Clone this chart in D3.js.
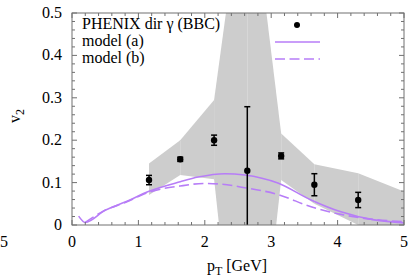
<!DOCTYPE html>
<html>
<head>
<meta charset="utf-8">
<script src="https://cdn.jsdelivr.net/npm/d3@7"></script>
<style>
  body { margin: 0; background: #fff; }
  svg { display: block; }
  text { font-family: "Liberation Serif", "DejaVu Serif", serif; fill: #000; }
</style>
</head>
<body>
<script>
// PHENIX direct photon v2 data (points + systematic band)
var ptData   = [1.16, 1.63, 2.14, 2.64, 3.15, 3.65, 4.31];
var v2Data   = [0.106, 0.155, 0.200, 0.128, 0.163, 0.095, 0.059];
var v2Err    = [0.011, 0.005, 0.012, 0.151, 0.007, 0.026, 0.018];

// gray band edges
var bandPt = [1.16, 1.63, 2.14, 2.64, 3.15, 3.65, 4.31, 5.0];
var bandHi = [0.145, 0.200, 0.295, 0.870, 0.216, 0.143, 0.122, 0.079];
var bandLo = [0.071, 0.118, 0.108, -0.614, 0.106, 0.050, 0.000, -0.030];

// model curves
var ptA = [0.1, 0.2, 0.5, 0.8, 1.15, 1.63, 1.9, 2.3, 2.6, 3.1, 3.6, 4.05, 4.55, 5.0];
var v2A = [0.021, 0.006, 0.035, 0.054, 0.079, 0.102, 0.113, 0.121, 0.118, 0.099, 0.059, 0.031, 0.012, 0.005];
var ptB = [0.2, 0.5, 0.8, 1.15, 1.63, 2.0, 2.2, 2.6, 3.1, 3.6, 4.05, 4.55, 5.0];
var v2B = [0.006, 0.035, 0.053, 0.077, 0.092, 0.098, 0.097, 0.088, 0.072, 0.043, 0.025, 0.013, 0.008];

var xTicks = [0, 1, 2, 3, 4, 5];
var yTicks = [0, 0.1, 0.2, 0.3, 0.4, 0.5];
var legendLabels = ["PHENIX dir \u03b3 (BBC)", "model (a)", "model (b)"];

var W = 410, H = 277;
var margin = {top: 13, right: 6, bottom: 52, left: 72};
var pw = W - margin.left - margin.right,
    ph = H - margin.top - margin.bottom;

var purple = "#b77df7", gray = "#707070";

var svg = d3.select("body").append("svg")
    .attr("width", W).attr("height", H);

var x = d3.scaleLinear().domain([0, 5]).range([margin.left, margin.left + pw]);
var y = d3.scaleLinear().domain([0, 0.5]).range([margin.top + ph, margin.top]);

svg.append("defs").append("clipPath").attr("id", "plotclip")
  .append("rect")
    .attr("x", margin.left).attr("y", margin.top)
    .attr("width", pw).attr("height", ph);

var plot = svg.append("g").attr("clip-path", "url(#plotclip)");

// band drawn segment by segment
var band = d3.range(bandPt.length - 1).map(function(i) {
  return [[bandPt[i], bandHi[i]], [bandPt[i+1], bandHi[i+1]],
          [bandPt[i+1], bandLo[i+1]], [bandPt[i], bandLo[i]]];
});
plot.selectAll("path.band").data(band).enter().append("path")
    .attr("class", "band")
    .attr("d", function(d) {
      return "M" + d.map(function(p) { return x(p[0]) + "," + y(p[1]); }).join("L") + "Z";
    })
    .attr("fill", "#cdcdcd");

// model curves
var line = d3.line().curve(d3.curveMonotoneX)
    .x(function(d) { return x(d[0]); })
    .y(function(d) { return y(d[1]); });

plot.append("path")
    .datum(d3.zip(ptB, v2B))
    .attr("d", line)
    .attr("fill", "none").attr("stroke", purple).attr("stroke-width", 1.6)
    .attr("stroke-dasharray", "10,4.5");

plot.append("path")
    .datum(d3.zip(ptA, v2A))
    .attr("d", line)
    .attr("fill", "none").attr("stroke", purple).attr("stroke-width", 1.6);

// data points with error bars
var pts = d3.zip(ptData, v2Data, v2Err);
var eb = plot.selectAll("g.pt").data(pts).enter().append("g").attr("class", "pt");
eb.append("line")
    .attr("x1", function(d) { return x(d[0]); }).attr("x2", function(d) { return x(d[0]); })
    .attr("y1", function(d) { return y(d[1] + d[2]); }).attr("y2", function(d) { return y(d[1] - d[2]); })
    .attr("stroke", "#000").attr("stroke-width", 1.5);
[1, -1].forEach(function(s) {
  eb.append("line")
      .attr("x1", function(d) { return x(d[0]) - 3; }).attr("x2", function(d) { return x(d[0]) + 3; })
      .attr("y1", function(d) { return y(d[1] + s * d[2]); }).attr("y2", function(d) { return y(d[1] + s * d[2]); })
      .attr("stroke", "#000").attr("stroke-width", 1.5);
});
eb.append("circle")
    .attr("cx", function(d) { return x(d[0]); }).attr("cy", function(d) { return y(d[1]); })
    .attr("r", 3.2).attr("fill", "#000");

// frame and ticks (gnuplot style, inward on all sides)
var frame = svg.append("g").attr("stroke", gray).attr("stroke-width", 1);
var x0 = margin.left, x1 = margin.left + pw, y0 = margin.top + ph, y1 = margin.top;

d3.range(0, 5.0001, 0.2).forEach(function(v) {
  var major = Math.abs(v - Math.round(v)) < 1e-6, len = major ? 5 : 3;
  frame.append("line").attr("x1", x(v)).attr("x2", x(v)).attr("y1", y0).attr("y2", y0 - len);
  frame.append("line").attr("x1", x(v)).attr("x2", x(v)).attr("y1", y1).attr("y2", y1 + len);
});
d3.range(0, 0.50001, 0.02).forEach(function(v) {
  var major = Math.abs(v * 10 - Math.round(v * 10)) < 1e-6, len = major ? 5 : 3;
  frame.append("line").attr("x1", x0).attr("x2", x0 + len).attr("y1", y(v)).attr("y2", y(v));
  frame.append("line").attr("x1", x1).attr("x2", x1 - len).attr("y1", y(v)).attr("y2", y(v));
});
frame.append("rect")
    .attr("x", x0).attr("y", y1).attr("width", pw).attr("height", ph)
    .attr("fill", "none");

// tick labels
svg.selectAll("text.xt").data(xTicks).enter().append("text")
    .attr("x", function(d) { return x(d); }).attr("y", 247)
    .attr("text-anchor", "middle").attr("font-size", 16)
    .text(function(d) { return d; });
svg.selectAll("text.yt").data(yTicks).enter().append("text")
    .attr("x", 62).attr("y", function(d) { return y(d) + 5; })
    .attr("text-anchor", "end").attr("font-size", 16)
    .text(function(d) { return d; });

// leftover label from neighbouring panel, kept inside the page
svg.append("text").attr("x", 0).attr("y", 247)
    .attr("text-anchor", "start").attr("font-size", 16).text("5");

// axis titles
var xl = svg.append("text").attr("x", 237).attr("y", 271)
    .attr("text-anchor", "middle").attr("font-size", 16);
xl.append("tspan").text("p");
xl.append("tspan").attr("dy", 4).attr("font-size", 12).text("T");
xl.append("tspan").attr("dy", -4).text(" [GeV]");

var yl = svg.append("text").attr("transform", "translate(20,116) rotate(-90)")
    .attr("text-anchor", "middle").attr("font-size", 16);
yl.append("tspan").text("v");
yl.append("tspan").attr("dy", 4).attr("font-size", 12).text("2");

// legend
var leg = svg.append("g");
leg.selectAll("text").data(legendLabels).enter().append("text")
    .attr("x", 82).attr("y", function(d, i) { return 29 + i * 17; })
    .attr("font-size", 16)
    .text(function(d) { return d; });
leg.append("circle").attr("cx", 297).attr("cy", 25).attr("r", 3).attr("fill", "#000");
leg.append("line").attr("x1", 275).attr("x2", 320).attr("y1", 42).attr("y2", 42)
    .attr("stroke", purple).attr("stroke-width", 1.6);
leg.append("line").attr("x1", 275).attr("x2", 320).attr("y1", 59).attr("y2", 59)
    .attr("stroke", purple).attr("stroke-width", 1.6).attr("stroke-dasharray", "10,4.5");
</script>
</body>
</html>
